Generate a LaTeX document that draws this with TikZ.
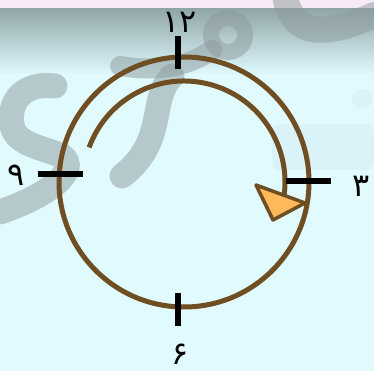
\documentclass[tikz,border=0pt]{standalone}
\usepackage{fontspec}
\usetikzlibrary{calc}
\newfontfamily\numfont{DejaVu Sans}
\definecolor{bgc}{HTML}{E0FAFD}
\definecolor{topgray}{HTML}{8FA5A7}
\definecolor{stripc}{HTML}{F7E9F5}
\definecolor{brownc}{HTML}{6E4E22}
\definecolor{orangec}{HTML}{FFB85A}
\definecolor{wmc}{HTML}{8C9A9D}
\definecolor{faintc}{HTML}{CFE6F0}
\begin{document}
\begin{tikzpicture}[x=1pt,y=-1pt,
  ring/.style={draw=brownc,line width=5pt},
  tick/.style={draw=black,line width=6pt},
  wm/.style={draw=wmc,draw opacity=0.5,line cap=round,line width=#1},
  lbl/.style={font=\numfont\fontsize{32}{32}\selectfont,inner sep=0pt}]
\useasboundingbox (0,0) rectangle (374,371);
% background
\fill[bgc] (0,0) rectangle (374,371);
\shade[top color=topgray,bottom color=bgc] (0,8) rectangle (374,75);
\fill[stripc] (0,0) rectangle (374,8);
% faint shapes
\fill[faintc,opacity=0.3,rounded corners=8pt] (272,124) rectangle (374,170);
\fill[faintc,opacity=0.3] (362,99) circle (10);
% watermark
\draw[wm=25pt] (55,86) .. controls (25,82) and (8,100) .. (12,125)
  .. controls (15,145) and (45,148) .. (62,156)
  .. controls (80,170) and (50,195) .. (0,212);
\draw[wm=16pt] (228,35) circle (17);
\draw[wm=20pt] (212,50) .. controls (180,72) and (145,70) .. (120,66);
\draw[wm=25pt] (172,76) .. controls (148,100) and (168,140) .. (122,176);
\draw[wm=26pt] (285,-5) .. controls (290,30) and (315,42) .. (374,15);
% clock
\coordinate (c) at (184,182);
\draw[ring] (c) circle (125);
\draw[ring] ($(c)+(200:101)$) arc[start angle=200,end angle=368,radius=101];
\draw[draw=brownc,fill=orangec,line width=3.5pt,line join=round]
  (256,185) -- (305,203) -- (273,220) -- cycle;
% ticks
\draw[tick] (178,36) -- (178,69);
\draw[tick] (178,293) -- (178,326);
\draw[tick] (38,174) -- (83,174);
\draw[tick] (286,181) -- (331,181);
% labels
\node[lbl] (n12) at (180,22) {۱۲};
\node[lbl] (n3) at (361,186) {۳};
\node[lbl] (n9) at (16,175) {۹};
\node[lbl] (n6) at (180,354) {۶};
\end{tikzpicture}
\end{document}
